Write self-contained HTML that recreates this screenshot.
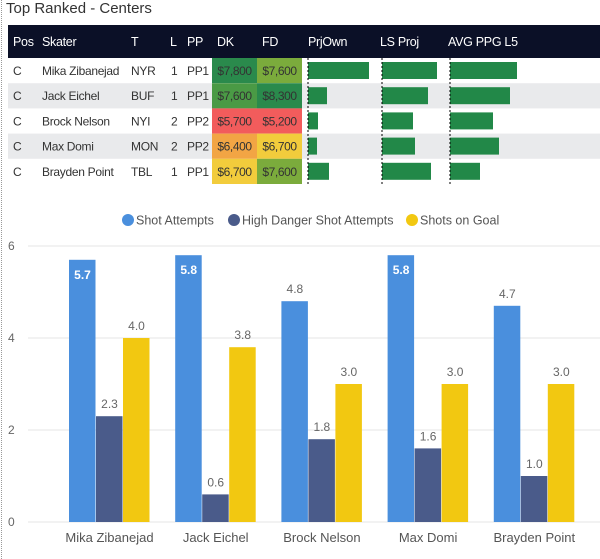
<!DOCTYPE html>
<html><head><meta charset="utf-8"><style>
body{margin:0;width:600px;height:559px;background:#fff;font-family:"Liberation Sans",sans-serif;overflow:hidden;position:relative}
.t{position:absolute;white-space:nowrap}
</style></head><body>
<div class="t" style="left:6px;top:0px;font-size:15px;color:#333">Top Ranked - Centers</div>
<div style="position:absolute;left:1px;top:0;height:559px;border-left:1px dotted #999"></div>
<svg id="tbl" width="600" height="190" style="position:absolute;left:0;top:0"></svg>
<svg id="ch" width="600" height="559" style="position:absolute;left:0;top:0"></svg>
<script>
const players=["Mika Zibanejad","Jack Eichel","Brock Nelson","Max Domi","Brayden Point"];
const teams=["NYR","BUF","NYI","MON","TBL"];
const lines=["1","1","2","2","1"];
const pps=["PP1","PP1","PP2","PP2","PP1"];
const dk=["$7,800","$7,600","$5,700","$6,400","$6,700"];
const dkColors=["#2a8a4c","#4a9a45","#f25c5c","#f2a544","#f2cc3c"];
const fd=["$7,600","$8,300","$5,200","$6,700","$7,600"];
const fdColors=["#7bab3c","#2a8a4c","#f25c5c","#f2cc3c","#7bab3c"];
const prjOwn=[61,19,10,9,21];
const lsProj=[55,46,31,33,49];
const avgPpg=[67,60,43,49,30];
const shotAttempts=[5.7,5.8,4.8,5.8,4.7];
const highDanger=[2.3,0.6,1.8,1.6,1.0];
const shotsOnGoal=[4.0,3.8,3.0,3.0,3.0];
const yTicks=[0,2,4,6];
const NS="http://www.w3.org/2000/svg";
function mk(p,tag,a,txt){const e=document.createElementNS(NS,tag);for(const k in a)e.setAttribute(k,a[k]);if(txt!==undefined)e.textContent=txt;p.appendChild(e);return e;}
const T=document.getElementById('tbl');
let h=mk(T,'rect',{x:8,y:25,width:592,height:33,fill:'#0b1027'});


const hdr=[["Pos",13],["Skater",42],["T",131],["L",170],["PP",187],["DK",217],["FD",262],["PrjOwn",308],["LS Proj",380],["AVG PPG L5",448]];
hdr.forEach(([s,x])=>{const e=mk(T,'text',{x:x,y:46,fill:'#fff','font-size':12.5,'letter-spacing':-0.3},s);

});
players.forEach((p,i)=>{const y=58+i*25.2;
 if(i%2==1){mk(T,'rect',{x:8,y:y,width:592,height:25.2,fill:'#e9eaec'});}
 const g=mk(T,'g',{});
 
 
 const ty=y+17,st={fill:'#333','font-size':12,'letter-spacing':-0.3};
 mk(g,'text',Object.assign({x:13,y:ty},st),"C");
 mk(g,'text',Object.assign({x:42,y:ty},st),p);
 mk(g,'text',Object.assign({x:131,y:ty},st),teams[i]);
 mk(g,'text',Object.assign({x:171,y:ty},st),lines[i]);
 mk(g,'text',Object.assign({x:187,y:ty},st),pps[i]);
 mk(g,'rect',{x:212,y:y,width:45,height:25.2,fill:dkColors[i]});
 mk(g,'rect',{x:257,y:y,width:45,height:25.2,fill:fdColors[i]});
 mk(g,'text',{x:234.5,y:ty,'text-anchor':'middle','font-size':12,'letter-spacing':-0.4,fill:'#333'},dk[i]);
 mk(g,'text',{x:279.5,y:ty,'text-anchor':'middle','font-size':12,'letter-spacing':-0.4,fill:'#333'},fd[i]);
 [[prjOwn,308],[lsProj,382],[avgPpg,450]].forEach(([arr,x0])=>{
  const b=mk(g,'rect',{x:x0,y:y+4,width:arr[i],height:17,fill:'#228848'});
  
  });
});
[308,382,450].forEach(x=>mk(T,'line',{x1:x,x2:x,y1:58,y2:185,stroke:'#000','stroke-dasharray':'2,2','stroke-width':1}));

const C=document.getElementById('ch');
const y0=522,pu=46;
const ys=v=>y0-v*pu;
const gx=i=>69+i*106.2;
const bw=27;
yTicks.forEach(t=>{mk(C,'line',{x1:28,x2:600,y1:ys(t),y2:ys(t),stroke:'#e4e4e4'});
 const e=mk(C,'text',{x:8,y:ys(t)+4,'font-size':12,fill:'#666'},t);
 
 });
const series=[[shotAttempts,'#4a8fdd',true],[highDanger,'#4a5b8a',false],[shotsOnGoal,'#f2c811',false]];
players.forEach((p,i)=>{
 series.forEach(([arr,col,inside],s)=>{
  const x=gx(i)+s*bw,v=arr[i];
  const r=mk(C,'rect',{x:x,y:ys(v),width:bw-0.5,height:v*pu,fill:col});
  
  
  const lab=v.toFixed(1);
  const isIn=inside&&v>=5.5;
  const l=mk(C,'text',{x:x+bw/2,y:isIn?ys(v)+19:ys(v)-8,'text-anchor':'middle','font-size':12,fill:isIn?'#fff':'#666','font-weight':isIn?'bold':'normal'},lab);
  
  
 });
 const xl=mk(C,'text',{x:gx(i)+bw*1.5,y:542,'text-anchor':'middle','font-size':13,fill:'#555'},p);
 
 
});
const leg=[["Shot Attempts",'#4a8fdd',122],["High Danger Shot Attempts",'#4a5b8a',228],["Shots on Goal",'#f2c811',406]];
leg.forEach(([s,c,x])=>{const g=mk(C,'g',{});
 
 
 mk(g,'circle',{cx:x+6,cy:220,r:6,fill:c});
 mk(g,'text',{x:x+14,y:224.5,'font-size':12.5,fill:'#555'},s);});
</script>
</body></html>
